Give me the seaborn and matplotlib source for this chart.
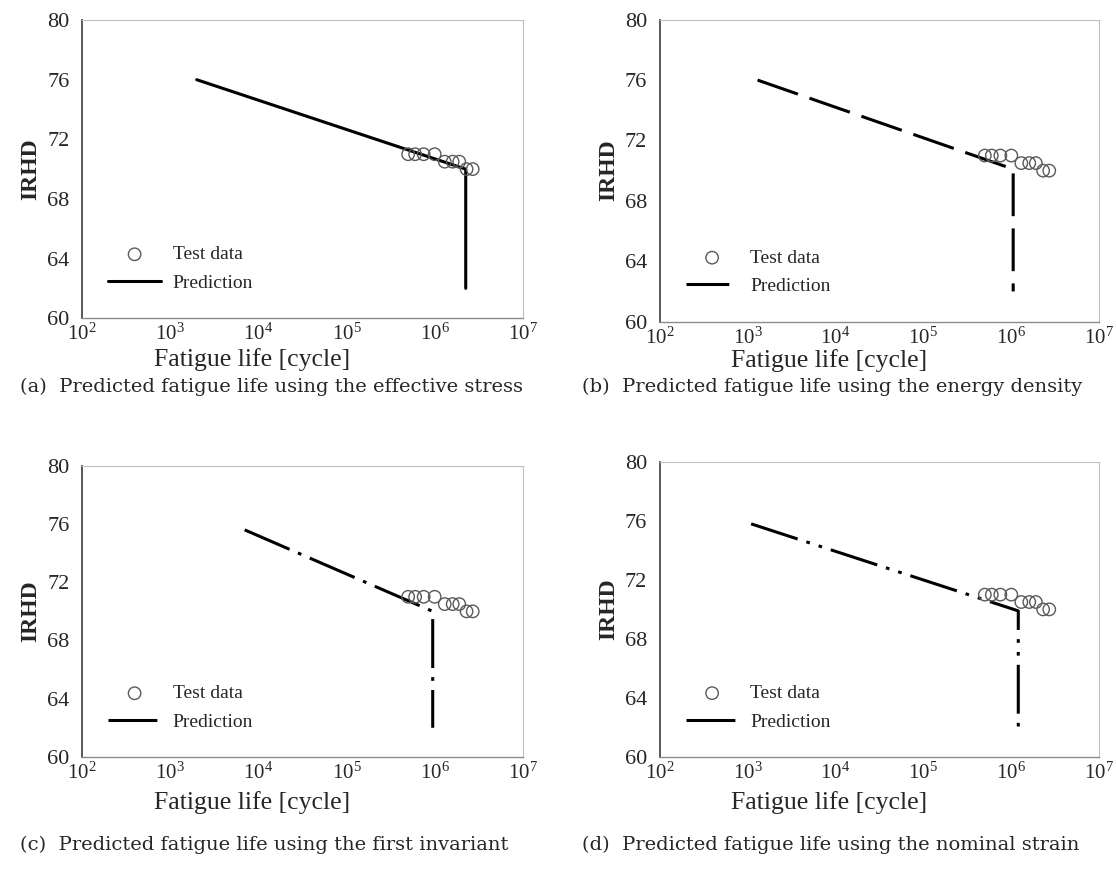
import numpy as np
import pandas as pd
import matplotlib
matplotlib.use("Agg")
import matplotlib.pyplot as plt
from matplotlib.ticker import LogLocator, LogFormatterMathtext, NullLocator
import seaborn as sns

sns.set_theme(style="white")
plt.rcParams["font.family"] = ["Liberation Serif", "DejaVu Serif"]
plt.rcParams["mathtext.fontset"] = "stix"

# Measured fatigue life of the rubber specimens and their hardness
test_life = [5.0e5, 6.0e5, 7.5e5, 1.0e6, 1.3e6, 1.6e6, 1.9e6, 2.3e6, 2.7e6]
test_irhd = [71.0, 71.0, 71.0, 71.0, 70.5, 70.5, 70.5, 70.0, 70.0]

# Predicted life curves (start, end of sloped part, end of vertical drop)
pred_life_a = [2.0e3, 2.25e6, 2.25e6]
pred_irhd_a = [76.0, 70.0, 62.0]
pred_life_b = [1.3e3, 1.05e6, 1.05e6]
pred_irhd_b = [76.0, 70.1, 62.0]
pred_life_c = [7.0e3, 9.5e5, 9.5e5]
pred_irhd_c = [75.6, 70.0, 62.0]
pred_life_d = [1.1e3, 1.2e6, 1.2e6]
pred_irhd_d = [75.8, 69.9, 62.0]

captions = [
    "(a)  Predicted fatigue life using the effective stress",
    "(b)  Predicted fatigue life using the energy density",
    "(c)  Predicted fatigue life using the first invariant",
    "(d)  Predicted fatigue life using the nominal strain",
]
yticks = [60, 64, 68, 72, 76, 80]

# linestyle, axes rect, caption anchor (px), x-label vertical offset (axes frac)
panels = [
    (pred_life_a, pred_irhd_a, "-", [0.0735, 0.636, 0.395, 0.341], (20, 387), -0.100),
    (pred_life_b, pred_irhd_b, (0, (14, 4)), [0.591, 0.632, 0.394, 0.3455], (582, 387), -0.092),
    (pred_life_c, pred_irhd_c, (0, (16, 3, 1.2, 3)), [0.0735, 0.134, 0.395, 0.333], (20, 845), -0.118),
    (pred_life_d, pred_irhd_d, (0, (16, 3, 1.2, 3, 1.2, 3)), [0.591, 0.134, 0.394, 0.3375], (582, 845), -0.116),
]

W, H = 1116, 874
fig = plt.figure(figsize=(W / 100, H / 100), dpi=100)

for (plife, pirhd, ls, rect, cap_xy, xl_y), cap in zip(panels, captions):
    ax = fig.add_axes(rect)
    tdf = pd.DataFrame({"life": test_life, "irhd": test_irhd})
    pdf = pd.DataFrame({"life": plife, "irhd": pirhd})
    sns.scatterplot(data=tdf, x="life", y="irhd", ax=ax, marker="o", s=80,
                    facecolor="none", edgecolor="0.35", linewidth=1.0,
                    label="Test data", zorder=3)
    sns.lineplot(data=pdf, x="life", y="irhd", ax=ax, sort=False, estimator=None,
                 color="black", linewidth=2.2, linestyle=ls, label="Prediction",
                 zorder=2)
    ax.set_xscale("log")
    ax.set_xlim(1e2, 1e7)
    ax.set_ylim(60, 80)
    ax.xaxis.set_major_locator(LogLocator(base=10, numticks=10))
    ax.xaxis.set_major_formatter(LogFormatterMathtext())
    ax.xaxis.set_minor_locator(NullLocator())
    ax.set_yticks(yticks)
    ax.tick_params(axis="both", labelsize=15, direction="in", length=3,
                   width=0.8, color="0.4")
    ax.tick_params(axis="y", pad=9, labelsize=16)
    ax.tick_params(axis="x", pad=4)
    ax.set_xlabel("Fatigue life [cycle]", fontsize=18.5)
    ax.xaxis.set_label_coords(0.386, xl_y)
    ax.set_ylabel("IRHD", fontsize=17, fontweight="bold", labelpad=4)
    for side in ["top", "right"]:
        ax.spines[side].set_color("0.75")
        ax.spines[side].set_linewidth(0.8)
    ax.spines["left"].set_color("0.3")
    ax.spines["left"].set_linewidth(1.3)
    ax.spines["bottom"].set_color("0.55")
    ax.spines["bottom"].set_linewidth(1.0)
    ax.grid(False)
    ax.legend(loc="lower left", bbox_to_anchor=(0.02, 0.03), frameon=False,
              fontsize=14, handlelength=2.7, labelspacing=0.55,
              handletextpad=0.6)
    fig.text(cap_xy[0] / W, 1 - cap_xy[1] / H, cap, ha="left", va="center",
             fontsize=14, family="DejaVu Serif", color="0.15")

fig.savefig("out.png", dpi=100, facecolor="white")
